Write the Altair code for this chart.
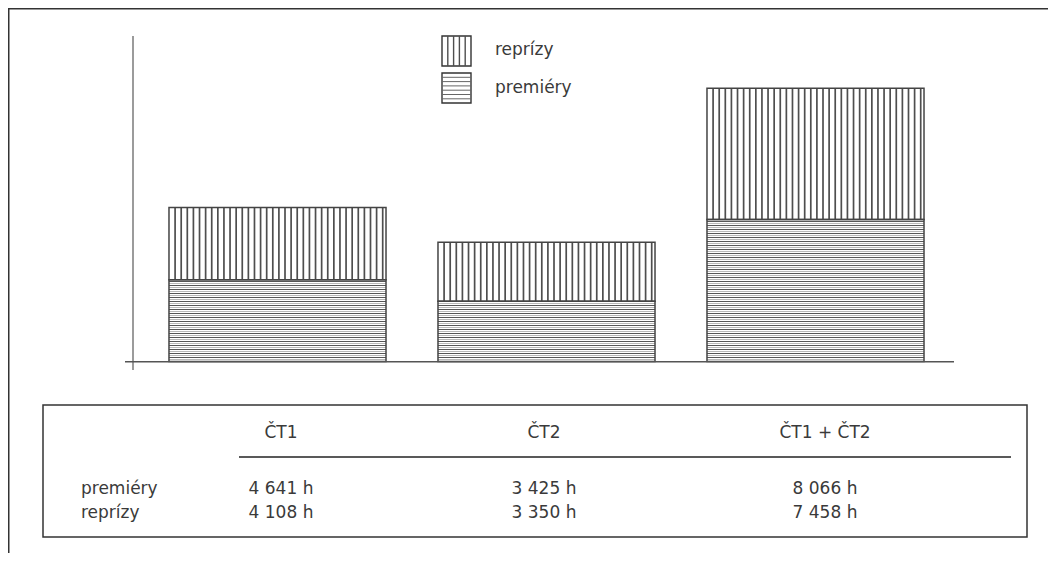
import altair as alt
import pandas as pd

# ---- data ----
channels = ["ČT1", "ČT2", "ČT1 + ČT2"]
premiery = [4641, 3425, 8066]
reprizy = [4108, 3350, 7458]
series = ["reprízy", "premiéry"]
row_labels = ["premiéry", "reprízy"]

W, H = 1040, 545
FONT = "DejaVu Sans"
INK = "#3a3a3a"
LINE = "#444444"


def fmt(v):
    return f"{v:,}".replace(",", " ") + " h"


bars = pd.DataFrame({"i": list(range(3)), "channel": channels,
                     "prem": premiery, "repr": reprizy})
bars["total"] = bars["prem"] + bars["repr"]

segs = pd.DataFrame(
    [{"i": i, "series": "premiéry", "y0": 0, "y1": p} for i, p in enumerate(premiery)]
    + [{"i": i, "series": "reprízy", "y0": p, "y1": p + r}
       for i, (p, r) in enumerate(zip(premiery, reprizy))]
)

table = pd.DataFrame(
    [{"col": c, "row": 0, "label": fmt(v)} for c, v in enumerate(premiery)]
    + [{"col": c, "row": 1, "label": fmt(v)} for c, v in enumerate(reprizy)]
)
rows = pd.DataFrame({"row": [0, 1], "label": row_labels})
heads = pd.DataFrame({"col": [0, 1, 2], "label": channels})
legend = pd.DataFrame({"k": [0, 1], "name": series})
dummy = pd.DataFrame({"a": [0]})

# ---- scales ----
bx = alt.Scale(domain=[-0.5, 2.5], range=[135, 942])
by = alt.Scale(domain=[0, 18500], range=[353.5, 28])
px = alt.Scale(domain=[0, W], range=[0, W])
py = alt.Scale(domain=[0, H], range=[0, H])
tx = alt.Scale(domain=[0, 1, 2], range=[273, 536, 817])
ty = alt.Scale(domain=[0, 1], range=[486, 510])

HALF = 0.4034
STEPX = 0.0227
STEPY = 227.3

# ---- bars: hatching ----
vhatch = alt.Chart(bars).transform_calculate(
    hx=f"sequence(datum.i - {HALF} + {STEPX}, datum.i + {HALF} - 0.005, {STEPX})"
).transform_flatten(["hx"]).mark_rule(color="#4e4e4e", strokeWidth=1.7).encode(
    x=alt.X("hx:Q", scale=bx, axis=None),
    y=alt.Y("prem:Q", scale=by, axis=None),
    y2="total:Q",
)

hhatch_dark = alt.Chart(bars).transform_calculate(
    hy=f"sequence({STEPY}, datum.prem - 60, {STEPY})",
    x0=f"datum.i - {HALF}", x1=f"datum.i + {HALF}",
).transform_flatten(["hy"]).mark_rule(color="#555555", strokeWidth=1).encode(
    x=alt.X("x0:Q", scale=bx, axis=None),
    x2="x1:Q",
    y=alt.Y("hy:Q", scale=by, axis=None),
)

hhatch_light = alt.Chart(bars).transform_calculate(
    hy=f"sequence({STEPY / 2}, datum.prem - 60, {STEPY})",
    x0=f"datum.i - {HALF}", x1=f"datum.i + {HALF}",
).transform_flatten(["hy"]).mark_rule(color="#b8b8b8", strokeWidth=1).encode(
    x=alt.X("x0:Q", scale=bx, axis=None),
    x2="x1:Q",
    y=alt.Y("hy:Q", scale=by, axis=None),
)

outline = alt.Chart(segs).transform_calculate(
    x0=f"datum.i - {HALF}", x1=f"datum.i + {HALF}"
).mark_rect(fill="transparent", stroke=LINE, strokeWidth=1.5).encode(
    x=alt.X("x0:Q", scale=bx, axis=None),
    x2="x1:Q",
    y=alt.Y("y0:Q", scale=by, axis=None),
    y2="y1:Q",
)

# ---- axes & frames ----
def rule(x, x2, y, y2, color=LINE, w=1.5):
    return alt.Chart(dummy).mark_rule(color=color, strokeWidth=w).encode(
        x=alt.value(x), x2=alt.value(x2), y=alt.value(y), y2=alt.value(y2))

frame_top = rule(0, W, 0.75, 0.75, "#333333", 1.5)
frame_left = rule(0.75, 0.75, 0, H, "#333333", 1.5)
y_axis = rule(125, 125, 28, 362, "#7a7a7a", 1.5)
x_axis = rule(117, 946, 353.7, 353.7, "#555555", 1.5)
table_line = rule(231, 1003, 449, 449, "#222222", 1.5)
table_box = alt.Chart(dummy).mark_rect(fill="transparent", stroke="#333333", strokeWidth=1.5).encode(
    x=alt.value(35), x2=alt.value(1019), y=alt.value(397), y2=alt.value(529))

# ---- legend ----
leg_box = alt.Chart(legend).transform_calculate(
    top="28 + 37 * datum.k", bot="58 + 37 * datum.k", l="434", r="463"
).mark_rect(fill="transparent", stroke="#333333", strokeWidth=1.4).encode(
    x=alt.X("l:Q", scale=px, axis=None), x2="r:Q",
    y=alt.Y("top:Q", scale=py, axis=None), y2="bot:Q",
)
leg_v = alt.Chart(legend).transform_filter("datum.k == 0").transform_calculate(
    lx="sequence(439.8, 462, 5.8)", top="28", bot="58"
).transform_flatten(["lx"]).mark_rule(color="#4e4e4e", strokeWidth=1.4).encode(
    x=alt.X("lx:Q", scale=px, axis=None),
    y=alt.Y("top:Q", scale=py, axis=None), y2="bot:Q",
)
leg_h = alt.Chart(legend).transform_filter("datum.k == 1").transform_calculate(
    ly="sequence(69.3, 94, 4.3)", l="434", r="463"
).transform_flatten(["ly"]).mark_rule(color="#666666", strokeWidth=1).encode(
    x=alt.X("l:Q", scale=px, axis=None), x2="r:Q",
    y=alt.Y("ly:Q", scale=py, axis=None),
)
leg_text = alt.Chart(legend).transform_calculate(
    ty="47 + 38 * datum.k"
).mark_text(font=FONT, fontSize=17, color=INK, align="left", baseline="alphabetic").encode(
    x=alt.value(487),
    y=alt.Y("ty:Q", scale=py, axis=None),
    text="name:N",
)

# ---- table text ----
txt = dict(font=FONT, fontSize=17, color=INK, baseline="alphabetic")
head_text = alt.Chart(heads).mark_text(align="center", **txt).encode(
    x=alt.X("col:Q", scale=tx, axis=None), y=alt.value(430), text="label:N")
val_text = alt.Chart(table).mark_text(align="center", **txt).encode(
    x=alt.X("col:Q", scale=tx, axis=None),
    y=alt.Y("row:Q", scale=ty, axis=None), text="label:N")
row_text = alt.Chart(rows).mark_text(align="left", **txt).encode(
    x=alt.value(73),
    y=alt.Y("row:Q", scale=ty, axis=None), text="label:N")

chart = alt.layer(
    frame_top, frame_left,
    hhatch_light, hhatch_dark, vhatch, outline,
    y_axis, x_axis,
    leg_box, leg_v, leg_h, leg_text,
    table_box, table_line, head_text, val_text, row_text,
).resolve_scale(x="independent", y="independent").properties(
    width=W, height=H, padding=0,
    autosize=alt.AutoSizeParams(type="none"),
    background="white",
).configure_view(stroke=None)

chart.save("out.html", embed_options={"renderer": "svg", "actions": False})
